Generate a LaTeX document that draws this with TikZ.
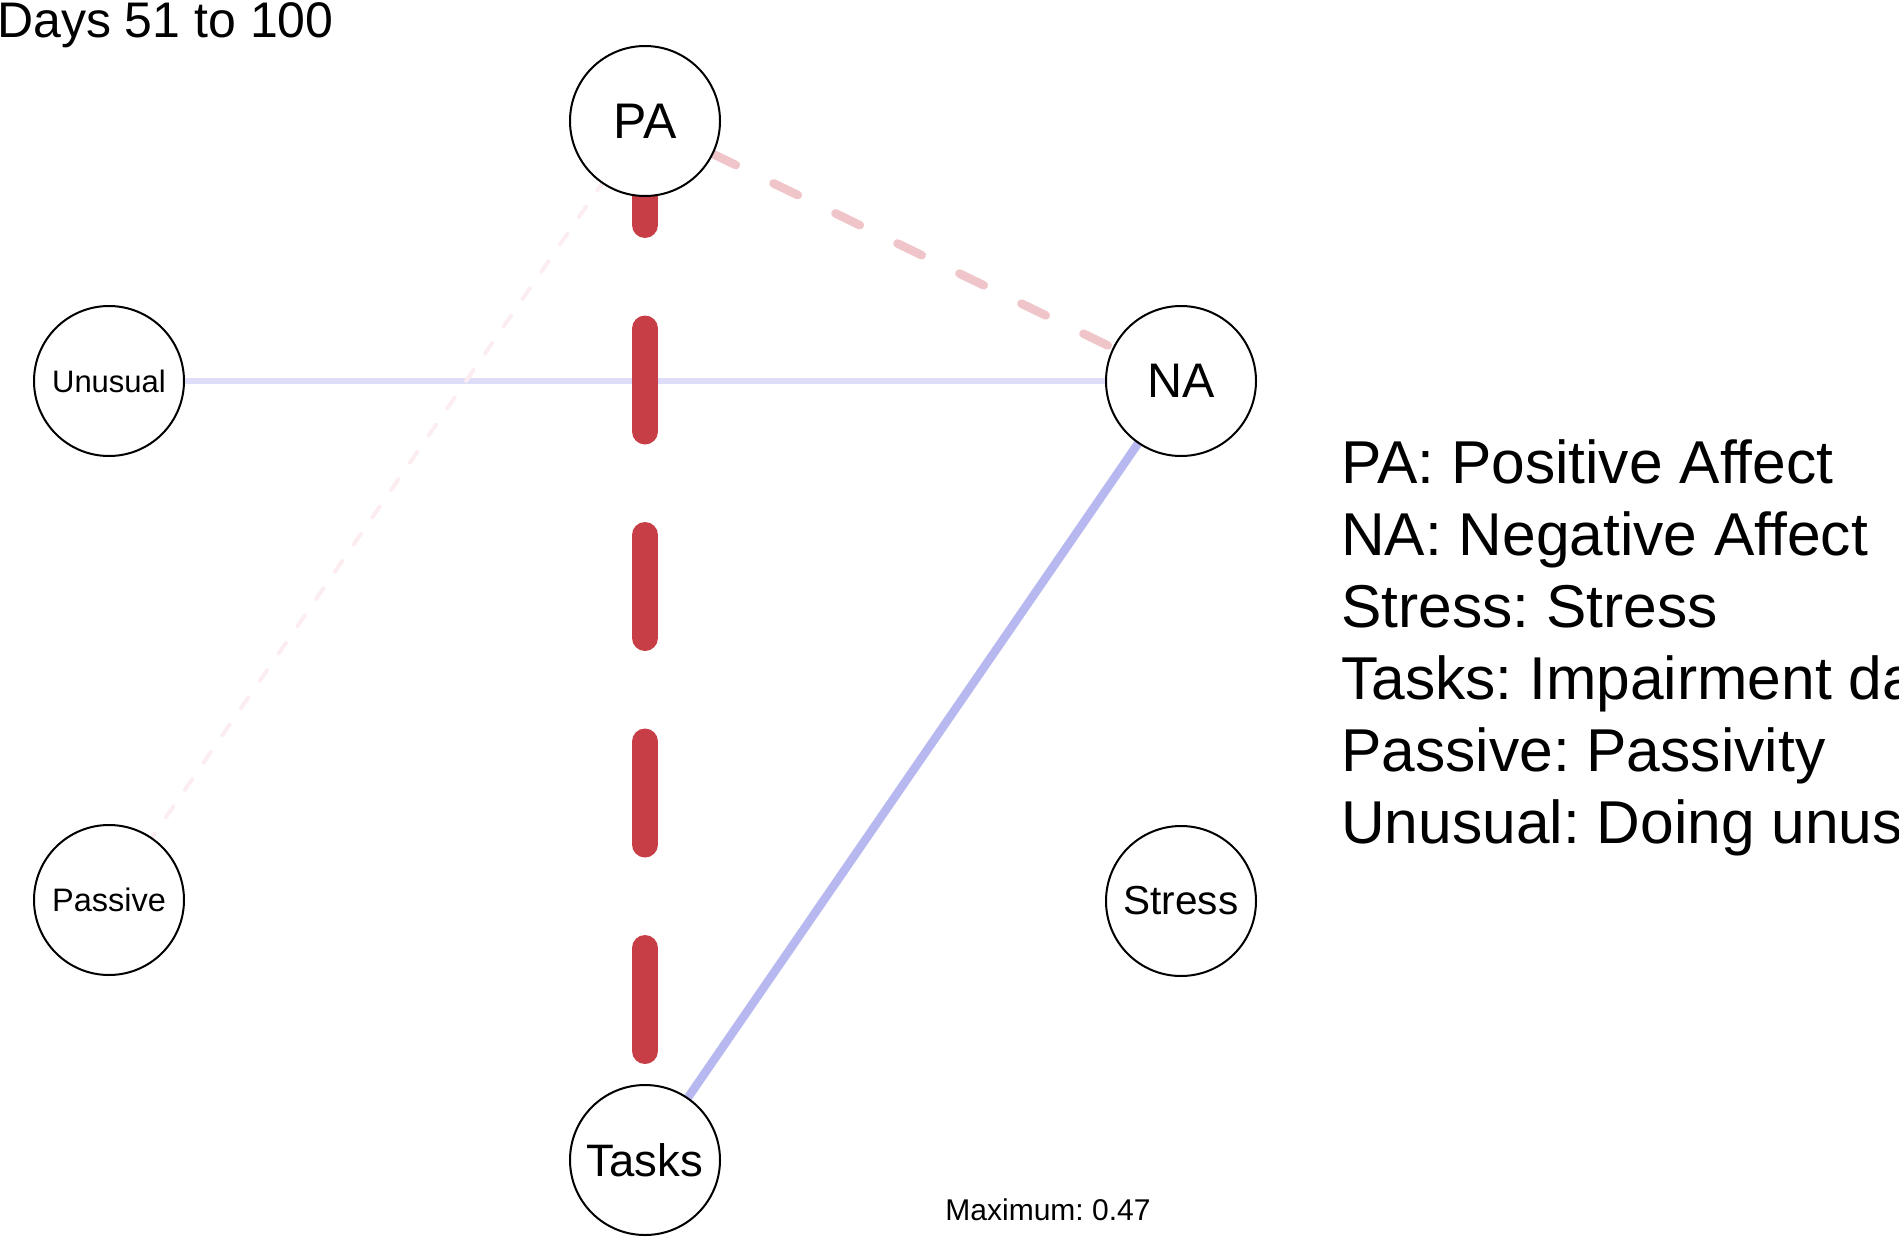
\documentclass[tikz,border=0pt]{standalone}
\usepackage{fontspec}
\setmainfont{Liberation Sans}
\frenchspacing
\usetikzlibrary{backgrounds}
\definecolor{edgered}{RGB}{200,62,70}
\definecolor{edgepink}{RGB}{239,197,201}
\definecolor{edgefaint}{RGB}{252,237,240}
\definecolor{edgeblue}{RGB}{184,184,240}
\definecolor{edgelav}{RGB}{221,221,249}
\newcommand{\fsz}[1]{\fontsize{#1}{#1}\selectfont}
\begin{document}
\begin{tikzpicture}[x=1pt,y=-1pt,
  vnode/.style={circle,draw=black,line width=2pt,fill=white,minimum size=150pt,inner sep=0pt},
  legline/.style={anchor=base west,inner sep=0pt,font=\fsz{60.5}},
  edgeline/.style={line cap=round}]
\useasboundingbox (0,0) rectangle (1899,1237);
\clip (0,0) rectangle (1899,1237);
% nodes
\node[vnode,font=\fsz{50}] (PA) at (645,121) {PA};
\node[vnode,font=\fsz{48.5}] (NA) at (1181,381) {NA};
\node[vnode,font=\fsz{31}] (Unusual) at (109,381) {Unusual};
\node[vnode,font=\fsz{32.5}] (Passive) at (109,900) {Passive};
\node[vnode,font=\fsz{40.5}] (Stress) at (1181,901) {Stress};
\node[vnode,font=\fsz{45.5}] (Tasks) at (645,1160) {Tasks};
% edges behind nodes
\begin{pgfonlayer}{background}
\draw[edgeline,edgelav,line width=6pt] (Unusual.center) -- (NA.center);
\draw[edgeline,edgefaint,line width=4pt,dash pattern=on 13pt off 20.1pt,dash phase=28.6pt] (PA.center) -- (Passive.center);
\draw[edgeline,edgepink,line width=8.6pt,dash pattern=on 27pt off 41.9pt,dash phase=63.9pt] (PA.center) -- (NA.center);
\draw[edgeline,edgeblue,line width=8.5pt] (NA.center) -- (Tasks.center);
\draw[edgeline,edgered,line width=26pt,dash pattern=on 103pt off 103.5pt,dash phase=205.5pt] (PA.center) -- (Tasks.center);
\end{pgfonlayer}
% title
\node[anchor=base west,inner sep=0pt,font=\fsz{50}] (title) at (-3,37) {Days 51 to 100};
% legend
\node[legline] (leg1) at (1341,483) {PA: Positive Affect};
\node[legline] (leg2) at (1341,555) {NA: Negative Affect};
\node[legline] (leg3) at (1341,627) {Stress: Stress};
\node[legline] (leg4) at (1341,699) {Tasks: Impairment da};
\node[legline] (leg5) at (1341,771) {Passive: Passivity};
\node[legline] (leg6) at (1341,843) {Unusual: Doing unus};
% maximum
\node[anchor=base,inner sep=0pt,font=\fsz{30}] (maxlab) at (1048,1220) {Maximum: 0.47};
\end{tikzpicture}
\end{document}
